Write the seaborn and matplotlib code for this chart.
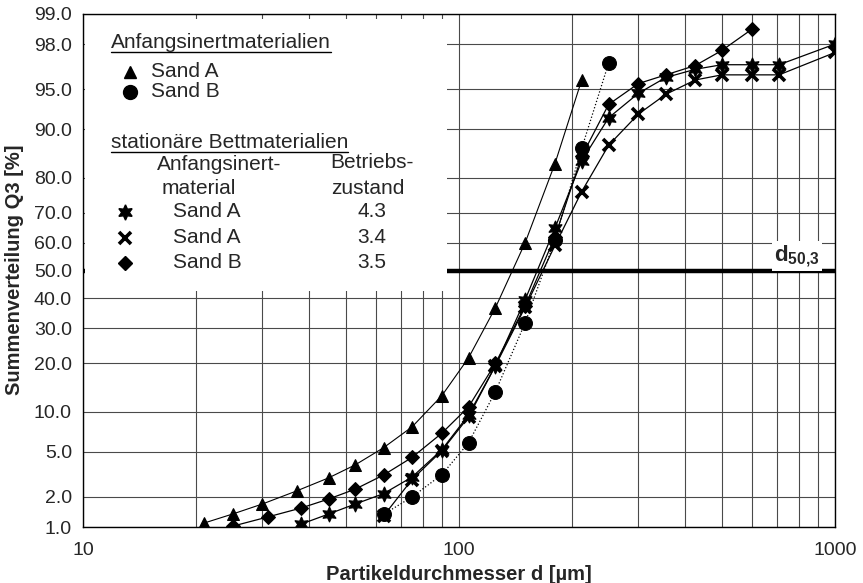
import math
import numpy as np
import pandas as pd
import matplotlib
matplotlib.use("Agg")
import matplotlib.pyplot as plt
import seaborn as sns
from matplotlib.ticker import FixedLocator, FixedFormatter, NullFormatter, LogLocator
from matplotlib.lines import Line2D
from matplotlib.patches import Rectangle

# ---------------- data ----------------
d_sand_a = [21, 25, 30, 37, 45, 53, 63, 75, 90, 106, 125, 150, 180, 212]
q_sand_a = [1.1, 1.36, 1.71, 2.28, 3.0, 3.9, 5.4, 7.8, 12.8, 21.4, 36.8, 60.0, 83.4, 95.8]

d_sand_b = [63, 75, 90, 106, 125, 150, 180, 212, 250]
q_sand_b = [1.35, 2.0, 3.2, 5.9, 13.6, 31.8, 61.0, 86.6, 97.0]

d_bed_a43 = [38, 45, 53, 63, 75, 90, 106, 125, 150, 180, 212, 250, 300, 355, 425, 500, 600, 710, 1000]
q_bed_a43 = [1.07, 1.36, 1.71, 2.15, 3.05, 5.2, 9.5, 19.4, 39.6, 65.0, 84.0, 91.7, 94.6, 96.0, 96.6, 96.9, 96.9, 96.9, 98.0]

d_bed_a34 = [63, 75, 90, 106, 125, 150, 180, 212, 250, 300, 355, 425, 500, 600, 710, 1000]
q_bed_a34 = [1.3, 2.9, 5.1, 9.2, 19.4, 37.0, 59.0, 76.3, 87.2, 92.2, 94.5, 95.8, 96.2, 96.2, 96.2, 97.6]

d_bed_b35 = [25, 31, 38, 45, 53, 63, 75, 90, 106, 125, 150, 180, 212, 250, 300, 355, 425, 500, 600]
q_bed_b35 = [1.02, 1.27, 1.56, 1.91, 2.37, 3.18, 4.5, 7.0, 10.8, 20.0, 37.5, 62.0, 85.0, 93.4, 95.5, 96.2, 96.85, 97.7, 98.56]

y_ticks = [1.0, 2.0, 5.0, 10.0, 20.0, 30.0, 40.0, 50.0, 60.0, 70.0, 80.0, 90.0, 95.0, 98.0, 99.0]
x_ticks = [10, 100, 1000]
x_tick_labels = ["10", "100", "1000"]
d50_level = 50.0

legend_group1 = "Anfangsinertmaterialien"
legend_group2 = "stationäre Bettmaterialien"
legend_head1 = ["Anfangsinert-", "material"]
legend_head2 = ["Betriebs-", "zustand"]
legend_rows1 = ["Sand A", "Sand B"]
legend_rows2 = [("Sand A", "4.3"), ("Sand A", "3.4"), ("Sand B", "3.5")]

# ---------------- probability (probit) scale ----------------
_erf = np.vectorize(math.erf)

def _ppf(p):
    p = np.clip(np.asarray(p, dtype=float), 1e-12, 1 - 1e-12)
    a = [-3.969683028665376e+01, 2.209460984245205e+02, -2.759285104469687e+02,
         1.383577518672690e+02, -3.066479806614716e+01, 2.506628277459239e+00]
    b = [-5.447609879822406e+01, 1.615858368580409e+02, -1.556989798598866e+02,
         6.680131188771972e+01, -1.328068155288572e+01]
    c = [-7.784894002430293e-03, -3.223964580411365e-01, -2.400758277161838e+00,
         -2.549732539343734e+00, 4.374664141464968e+00, 2.938163982698783e+00]
    d = [7.784695709041462e-03, 3.224671290700398e-01, 2.445134137142996e+00,
         3.754408661907416e+00]
    plow = 0.02425
    ql = np.sqrt(-2 * np.log(np.minimum(p, 0.5)))
    xl = (((((c[0]*ql + c[1])*ql + c[2])*ql + c[3])*ql + c[4])*ql + c[5]) / \
         ((((d[0]*ql + d[1])*ql + d[2])*ql + d[3])*ql + 1)
    qu = np.sqrt(-2 * np.log(np.minimum(1 - p, 0.5)))
    xu = -(((((c[0]*qu + c[1])*qu + c[2])*qu + c[3])*qu + c[4])*qu + c[5]) / \
         ((((d[0]*qu + d[1])*qu + d[2])*qu + d[3])*qu + 1)
    q = p - 0.5
    r = q * q
    xc = (((((a[0]*r + a[1])*r + a[2])*r + a[3])*r + a[4])*r + a[5]) * q / \
         (((((b[0]*r + b[1])*r + b[2])*r + b[3])*r + b[4])*r + 1)
    return np.where(p < plow, xl, np.where(p > 1 - plow, xu, xc))

def fwd(q):
    return _ppf(np.asarray(q, dtype=float) / 100.0)

def inv(z):
    z = np.asarray(z, dtype=float)
    return 50.0 * (1.0 + _erf(z / math.sqrt(2.0)))

# ---------------- figure ----------------
sns.set_style("white")
plt.rcParams["font.family"] = ["Liberation Sans", "DejaVu Sans"]
plt.rcParams["mathtext.fontset"] = "custom"
plt.rcParams["mathtext.rm"] = "Liberation Sans"
plt.rcParams["mathtext.bf"] = "Liberation Sans:bold"

W, H = 863, 583
fig = plt.figure(figsize=(W / 100, H / 100), dpi=100)
L, R, T, B = 83, 835, 14, 527
ax = fig.add_axes([L / W, 1 - B / H, (R - L) / W, (B - T) / H])

def fx(px):
    return px / W

def fy(py):
    return 1 - py / H

line_kw = dict(color="black", markeredgecolor="black", markerfacecolor="black", zorder=4, ax=ax)
sns.lineplot(x=d_sand_a, y=q_sand_a, marker="^", markersize=9, lw=0.8, **line_kw)
sns.lineplot(x=d_sand_b, y=q_sand_b, marker="o", markersize=10, lw=0.9, linestyle=":", **line_kw)
sns.lineplot(x=d_bed_a43, y=q_bed_a43, marker=(6, 1, 0), markersize=11, lw=0.9, **line_kw)
sns.lineplot(x=d_bed_a34, y=q_bed_a34, marker="x", markersize=8, markeredgewidth=2.6, lw=0.9, **line_kw)
sns.lineplot(x=d_bed_b35, y=q_bed_b35, marker="D", markersize=7, lw=0.9, **line_kw)

ax.set_xscale("log")
ax.set_yscale("function", functions=(fwd, inv))
ax.set_xlim(10, 1000)
ax.set_ylim(1, 99)

ax.xaxis.set_major_locator(FixedLocator(x_ticks))
ax.xaxis.set_major_formatter(FixedFormatter(x_tick_labels))
ax.xaxis.set_minor_locator(LogLocator(base=10, subs=np.arange(2, 10)))
ax.xaxis.set_minor_formatter(NullFormatter())
ax.yaxis.set_major_locator(FixedLocator(y_ticks))
ax.yaxis.set_major_formatter(FixedFormatter([f"{v:.1f}" for v in y_ticks]))
ax.yaxis.set_minor_locator(FixedLocator([]))

ax.set_axisbelow(True)
ax.grid(True, which="both", color="#4a4a4a", lw=0.8)
ax.tick_params(which="both", length=0)
ax.tick_params(axis="y", pad=8, labelsize=14)
ax.tick_params(axis="x", pad=11, labelsize=14)
for s in ax.spines.values():
    s.set_color("black")
    s.set_linewidth(1.0)
ax.set_xlabel("")
ax.set_ylabel("")

# thick d50 line
ax.axhline(d50_level, color="black", lw=3.2, zorder=1.5)

# legend box (white, covers grid)
bx0 = 0.003
bx1 = (447 - L) / (R - L)
by0 = (B - 291) / (B - T)
by1 = (B - 19) / (B - T)
ax.add_patch(Rectangle((bx0, by0), bx1 - bx0, by1 - by0, transform=ax.transAxes,
                       facecolor="white", edgecolor="none", zorder=2))

# d50,3 label
ax.text(fx(774), fy(261), r"d$_{\mathbf{50{,}3}}$", transform=fig.transFigure,
        fontsize=16, fontweight="bold", ha="left", va="baseline", zorder=5,
        bbox=dict(facecolor="white", edgecolor="none", pad=1.5))

# axis titles
fig.text(fx(15), fy(270), "Summenverteilung Q3 [%]", rotation=90, ha="center", va="center",
         fontsize=14.5, fontweight="bold")
fig.text(fx(459), fy(574), "Partikeldurchmesser d [µm]", ha="center", va="center",
         fontsize=14.5, fontweight="bold")

# legend texts
fs = 15
underlined = []
t1 = fig.text(fx(111), fy(48), legend_group1, fontsize=fs, ha="left", va="baseline", zorder=6)
underlined.append((t1, 52))
fig.text(fx(151), fy(77), legend_rows1[0], fontsize=fs, ha="left", va="baseline")
fig.text(fx(151), fy(97), legend_rows1[1], fontsize=fs, ha="left", va="baseline")
fig.add_artist(Line2D([fx(130)], [fy(72)], marker="^", markersize=9, color="black", ls="none"))
fig.add_artist(Line2D([fx(130)], [fy(92)], marker="o", markersize=10, color="black", ls="none"))

t2 = fig.text(fx(111), fy(148), legend_group2, fontsize=fs, ha="left", va="baseline")
underlined.append((t2, 152))
fig.text(fx(157), fy(170), legend_head1[0], fontsize=fs, ha="left", va="baseline")
fig.text(fx(162), fy(194), legend_head1[1], fontsize=fs, ha="left", va="baseline")
fig.text(fx(330), fy(168), legend_head2[0], fontsize=fs, ha="left", va="baseline")
fig.text(fx(331), fy(194), legend_head2[1], fontsize=fs, ha="left", va="baseline")

row_y = [212, 238, 263]
row_markers = [dict(marker=(6, 1, 0), markersize=11),
               dict(marker="x", markersize=8, markeredgewidth=2.6),
               dict(marker="D", markersize=7)]
for (name, val), yy, mk in zip(legend_rows2, row_y, row_markers):
    fig.add_artist(Line2D([fx(125)], [fy(yy)], color="black", ls="none", **mk))
    fig.text(fx(173), fy(yy + 5), name, fontsize=fs, ha="left", va="baseline")
    fig.text(fx(372), fy(yy + 5), val, fontsize=fs, ha="center", va="baseline")

fig.canvas.draw()
rend = fig.canvas.get_renderer()
for t, uy in underlined:
    bb = t.get_window_extent(rend)
    fig.add_artist(Line2D([bb.x0 / W, bb.x1 / W], [fy(uy), fy(uy)], color="black", lw=1.0))

fig.savefig("out.png", dpi=100)
